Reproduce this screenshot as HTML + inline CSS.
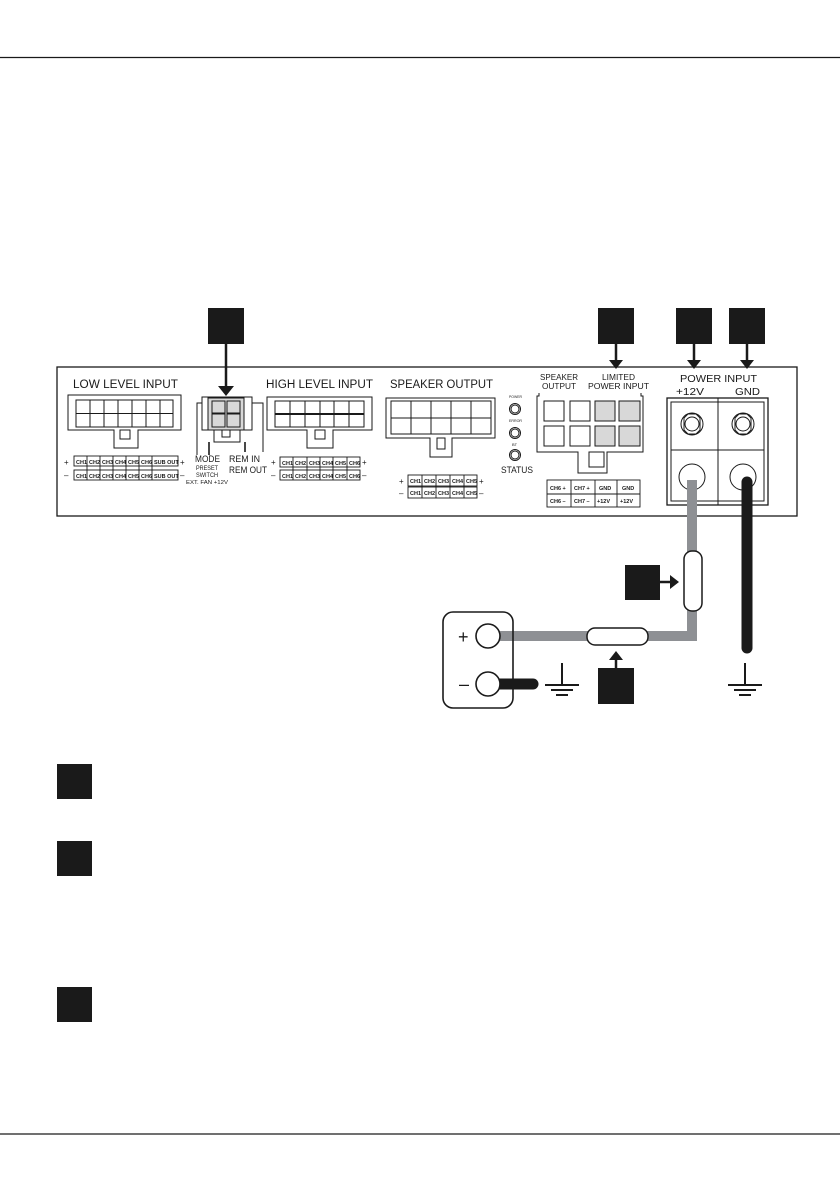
<!DOCTYPE html>
<html><head><meta charset="utf-8"><style>
html,body{margin:0;padding:0;background:#fff;}
svg{display:block;}
text{font-family:"Liberation Sans",sans-serif;fill:#1a1a1a;}
</style></head><body>
<svg width="840" height="1192" viewBox="0 0 840 1192" xmlns="http://www.w3.org/2000/svg">
<line x1="0" y1="57.5" x2="840" y2="57.5" stroke="#1a1a1a" stroke-width="1.3"/>
<line x1="0" y1="1134" x2="840" y2="1134" stroke="#1a1a1a" stroke-width="1.3"/>

<!-- main panel -->
<rect x="57" y="367" width="740" height="149" fill="#fff" stroke="#1a1a1a" stroke-width="1.3"/>

<!-- callout squares -->
<g fill="#1a1a1a">
<rect x="208" y="308" width="36" height="36"/>
<rect x="598" y="308" width="36" height="36"/>
<rect x="676" y="308" width="36" height="36"/>
<rect x="729" y="308" width="36" height="36"/>
<rect x="625" y="565" width="35" height="35"/>
<rect x="598" y="668" width="36" height="36"/>
<rect x="57" y="764" width="35" height="35"/>
<rect x="57" y="841" width="35" height="35"/>
<rect x="57" y="987" width="35" height="35"/>
</g>

<text x="73" y="388" font-size="11.5" textLength="105" lengthAdjust="spacingAndGlyphs">LOW LEVEL INPUT</text>
<text x="266" y="388" font-size="11.5" textLength="107" lengthAdjust="spacingAndGlyphs">HIGH LEVEL INPUT</text>
<text x="390" y="388" font-size="11.5" textLength="103" lengthAdjust="spacingAndGlyphs">SPEAKER OUTPUT</text>
<text x="540" y="380" font-size="8" textLength="38" lengthAdjust="spacingAndGlyphs">SPEAKER</text>
<text x="542" y="389" font-size="8" textLength="34" lengthAdjust="spacingAndGlyphs">OUTPUT</text>
<text x="602" y="380" font-size="8" textLength="33" lengthAdjust="spacingAndGlyphs">LIMITED</text>
<text x="588" y="389" font-size="8" textLength="61" lengthAdjust="spacingAndGlyphs">POWER INPUT</text>
<text x="680" y="382" font-size="10.5" textLength="77" lengthAdjust="spacingAndGlyphs">POWER INPUT</text>
<text x="676" y="395" font-size="10" textLength="28" lengthAdjust="spacingAndGlyphs">+12V</text>
<text x="735" y="395" font-size="10" textLength="25" lengthAdjust="spacingAndGlyphs">GND</text>

<g stroke="#1a1a1a" stroke-width="2.5" fill="none">
<line x1="226" y1="344" x2="226" y2="388"/>
<line x1="616" y1="344" x2="616" y2="362"/>
<line x1="694" y1="344" x2="694" y2="362"/>
<line x1="747" y1="344" x2="747" y2="362"/>
<line x1="660" y1="582" x2="672" y2="582"/>
<line x1="616" y1="668" x2="616" y2="658"/>
</g>
<g fill="#1a1a1a">
<path d="M218,386 L234,386 L226,396z"/>
<path d="M609,360 L623,360 L616,369z"/>
<path d="M687,360 L701,360 L694,369z"/>
<path d="M740,360 L754,360 L747,369z"/>
<path d="M670,575 L670,589 L679,582z"/>
<path d="M609,660 L623,660 L616,651z"/>
</g>

<g fill="none" stroke="#1a1a1a" stroke-width="1">
<path d="M68,395 H181 V430 H138 V448 H114 V430 H68 Z" fill="#fff"/>
<rect x="76" y="400" width="97" height="27"/>
<rect x="120" y="430" width="10" height="9"/>
<path d="M202,397 H252 V430 H202 Z"/>
<rect x="208" y="398" width="36" height="32" fill="#d8d8d8"/>
<rect x="212" y="401" width="13" height="12" fill="#d8d8d8"/>
<rect x="227" y="401" width="13" height="12" fill="#d8d8d8"/>
<rect x="212" y="414" width="13" height="13" fill="#d8d8d8"/>
<rect x="227" y="414" width="13" height="13" fill="#d8d8d8"/>
<path d="M214,430 V442 H240 V430"/>
<rect x="222" y="430" width="8" height="7"/>
<path d="M197,455 V403 H202"/>
<path d="M263,452 V403 H252"/>
<path d="M267,397 H372 V430 H333 V448 H307 V430 H267 Z"/>
<rect x="275" y="401" width="89" height="26"/>
<rect x="315" y="430" width="10" height="9"/>
<path d="M386,398 H495 V438 H452 V457 H430 V438 H386 Z"/>
<rect x="391" y="401" width="100" height="33"/>
<rect x="437" y="438" width="8" height="11"/>
<circle cx="515" cy="409" r="5.5"/><circle cx="515" cy="409" r="4"/>
<circle cx="515" cy="433" r="5.5"/><circle cx="515" cy="433" r="4"/>
<circle cx="515" cy="455" r="5.5"/><circle cx="515" cy="455" r="4"/>
<path d="M539,393 V396 H537 V452 H578 V473 H607 V452 H643 V396 H641 V393"/>
<rect x="544" y="401" width="20" height="20"/>
<rect x="570" y="401" width="20" height="20"/>
<rect x="595" y="401" width="20" height="20" fill="#d8d8d8"/>
<rect x="619" y="401" width="21" height="20" fill="#d8d8d8"/>
<rect x="544" y="426" width="20" height="20"/>
<rect x="570" y="426" width="20" height="20"/>
<rect x="595" y="426" width="20" height="20" fill="#d8d8d8"/>
<rect x="619" y="426" width="21" height="20" fill="#d8d8d8"/>
<rect x="589" y="452" width="15" height="15"/>
<rect x="667" y="398" width="101" height="107" stroke-width="1.3"/>
<rect x="671" y="402" width="93" height="99"/>
<line x1="718" y1="398" x2="718" y2="505"/>
<line x1="671" y1="450" x2="764" y2="450"/>
<polygon points="684,418 688,414 696,414 700,418 700,430 696,434 688,434 684,430"/>
<circle cx="692" cy="424" r="11"/><circle cx="692" cy="424" r="7"/>
<polygon points="735,418 739,414 747,414 751,418 751,430 747,434 739,434 735,430"/>
<circle cx="743" cy="424" r="11"/><circle cx="743" cy="424" r="7"/>
<circle cx="692" cy="477" r="13"/><circle cx="743" cy="477" r="13"/>
</g>
<g stroke="#1a1a1a" stroke-width="1">
<line x1="76" y1="413.5" x2="173" y2="413.5"/>
<line x1="90" y1="400" x2="90" y2="427"/><line x1="104" y1="400" x2="104" y2="427"/><line x1="118" y1="400" x2="118" y2="427"/><line x1="132" y1="400" x2="132" y2="427"/><line x1="146" y1="400" x2="146" y2="427"/><line x1="160" y1="400" x2="160" y2="427"/>
<line x1="275" y1="414" x2="364" y2="414" stroke-width="2"/>
<line x1="290" y1="401" x2="290" y2="427"/><line x1="305" y1="401" x2="305" y2="427"/><line x1="320" y1="401" x2="320" y2="427"/><line x1="334" y1="401" x2="334" y2="427"/><line x1="349" y1="401" x2="349" y2="427"/>
<line x1="391" y1="418" x2="491" y2="418"/>
<line x1="411" y1="401" x2="411" y2="434"/><line x1="431" y1="401" x2="431" y2="434"/><line x1="451" y1="401" x2="451" y2="434"/><line x1="471" y1="401" x2="471" y2="434"/>
<line x1="209" y1="442" x2="209" y2="455" stroke-width="1.6"/>
<line x1="245" y1="442" x2="245" y2="452" stroke-width="1.6"/>
</g>

<g fill="#fff" stroke="#1a1a1a" stroke-width="0.9">
<rect x="74" y="456" width="104" height="10"/><rect x="74" y="470" width="104" height="10"/>
<rect x="280" y="457" width="80" height="10"/><rect x="280" y="470" width="80" height="10"/>
<rect x="408" y="475" width="69" height="11"/><rect x="408" y="487" width="69" height="11"/>
<rect x="547" y="480" width="93" height="27"/>
</g>
<g stroke="#1a1a1a" stroke-width="0.9">
<line x1="87" y1="456" x2="87" y2="480"/><line x1="100" y1="456" x2="100" y2="480"/><line x1="113" y1="456" x2="113" y2="480"/><line x1="126" y1="456" x2="126" y2="480"/><line x1="139" y1="456" x2="139" y2="480"/><line x1="152" y1="456" x2="152" y2="480"/>
<line x1="293" y1="457" x2="293" y2="480"/><line x1="307" y1="457" x2="307" y2="480"/><line x1="320" y1="457" x2="320" y2="480"/><line x1="333" y1="457" x2="333" y2="480"/><line x1="347" y1="457" x2="347" y2="480"/>
<line x1="422" y1="475" x2="422" y2="498"/><line x1="436" y1="475" x2="436" y2="498"/><line x1="450" y1="475" x2="450" y2="498"/><line x1="464" y1="475" x2="464" y2="498"/>
<line x1="547" y1="494" x2="640" y2="494"/>
<line x1="571" y1="480" x2="571" y2="507"/><line x1="595" y1="480" x2="595" y2="507"/><line x1="617" y1="480" x2="617" y2="507"/>
</g>
<g font-size="5.5" font-weight="bold">
<text x="76" y="464">CH1</text><text x="89" y="464">CH2</text><text x="102" y="464">CH3</text><text x="115" y="464">CH4</text><text x="128" y="464">CH5</text><text x="141" y="464">CH6</text><text x="154" y="464">SUB OUT</text>
<text x="76" y="478">CH1</text><text x="89" y="478">CH2</text><text x="102" y="478">CH3</text><text x="115" y="478">CH4</text><text x="128" y="478">CH5</text><text x="141" y="478">CH6</text><text x="154" y="478">SUB OUT</text>
<text x="282" y="465">CH1</text><text x="295" y="465">CH2</text><text x="309" y="465">CH3</text><text x="322" y="465">CH4</text><text x="335" y="465">CH5</text><text x="349" y="465">CH6</text>
<text x="282" y="478">CH1</text><text x="295" y="478">CH2</text><text x="309" y="478">CH3</text><text x="322" y="478">CH4</text><text x="335" y="478">CH5</text><text x="349" y="478">CH6</text>
<text x="410" y="483">CH1</text><text x="424" y="483">CH2</text><text x="438" y="483">CH3</text><text x="452" y="483">CH4</text><text x="466" y="483">CH5</text>
<text x="410" y="495">CH1</text><text x="424" y="495">CH2</text><text x="438" y="495">CH3</text><text x="452" y="495">CH4</text><text x="466" y="495">CH5</text>
<text x="550" y="490">CH6 +</text><text x="574" y="490">CH7 +</text><text x="599" y="490">GND</text><text x="622" y="490">GND</text>
<text x="550" y="503">CH6 –</text><text x="574" y="503">CH7 –</text><text x="597" y="503">+12V</text><text x="620" y="503">+12V</text>
</g>
<g font-size="8">
<text x="64" y="465">+</text><text x="64" y="478">–</text><text x="180" y="465">+</text><text x="180" y="478">–</text>
<text x="271" y="465">+</text><text x="271" y="478">–</text><text x="362" y="465">+</text><text x="362" y="478">–</text>
<text x="399" y="484">+</text><text x="399" y="496">–</text><text x="479" y="484">+</text><text x="479" y="496">–</text>
</g>
<text x="195" y="462" font-size="9" textLength="25" lengthAdjust="spacingAndGlyphs">MODE</text>
<text x="196" y="470" font-size="6" textLength="22" lengthAdjust="spacingAndGlyphs">PRESET</text>
<text x="196" y="477" font-size="6" textLength="22" lengthAdjust="spacingAndGlyphs">SWITCH</text>
<text x="186" y="484" font-size="5.5" textLength="42" lengthAdjust="spacingAndGlyphs">EXT. FAN +12V</text>
<text x="229" y="462" font-size="9" textLength="31" lengthAdjust="spacingAndGlyphs">REM IN</text>
<text x="229" y="473" font-size="9" textLength="38" lengthAdjust="spacingAndGlyphs">REM OUT</text>
<text x="509" y="398" font-size="4" textLength="13" lengthAdjust="spacingAndGlyphs">POWER</text>
<text x="509" y="422" font-size="4" textLength="13" lengthAdjust="spacingAndGlyphs">ERROR</text>
<text x="512" y="446" font-size="4">BT</text>
<text x="501" y="473" font-size="9.5" textLength="32" lengthAdjust="spacingAndGlyphs">STATUS</text>

<!-- wiring -->
<path d="M692,480 V636 H500" fill="none" stroke="#8e9094" stroke-width="10"/>
<line x1="747" y1="482" x2="747" y2="648" stroke="#1a1a1a" stroke-width="11" stroke-linecap="round"/>
<rect x="684" y="551" width="18" height="60" rx="8" fill="#fff" stroke="#1a1a1a" stroke-width="1.5"/>
<rect x="587" y="628" width="61" height="17" rx="8" fill="#fff" stroke="#1a1a1a" stroke-width="1.5"/>
<rect x="443" y="612" width="70" height="96" rx="10" fill="none" stroke="#1a1a1a" stroke-width="1.6"/>
<line x1="490" y1="684" x2="533" y2="684" stroke="#1a1a1a" stroke-width="11" stroke-linecap="round"/>
<circle cx="488" cy="636" r="12" fill="#fff" stroke="#1a1a1a" stroke-width="1.6"/>
<circle cx="488" cy="684" r="12" fill="#fff" stroke="#1a1a1a" stroke-width="1.6"/>
<text x="458" y="643" font-size="18">+</text>
<text x="459" y="690" font-size="18">–</text>
<g stroke="#1a1a1a" stroke-width="2">
<line x1="562" y1="663" x2="562" y2="684"/><line x1="545" y1="685" x2="579" y2="685"/><line x1="551" y1="690" x2="573" y2="690"/><line x1="556" y1="695" x2="568" y2="695"/>
<line x1="745" y1="663" x2="745" y2="684"/><line x1="728" y1="685" x2="762" y2="685"/><line x1="734" y1="690" x2="756" y2="690"/><line x1="739" y1="695" x2="751" y2="695"/>
</g>
</svg>
</body></html>
